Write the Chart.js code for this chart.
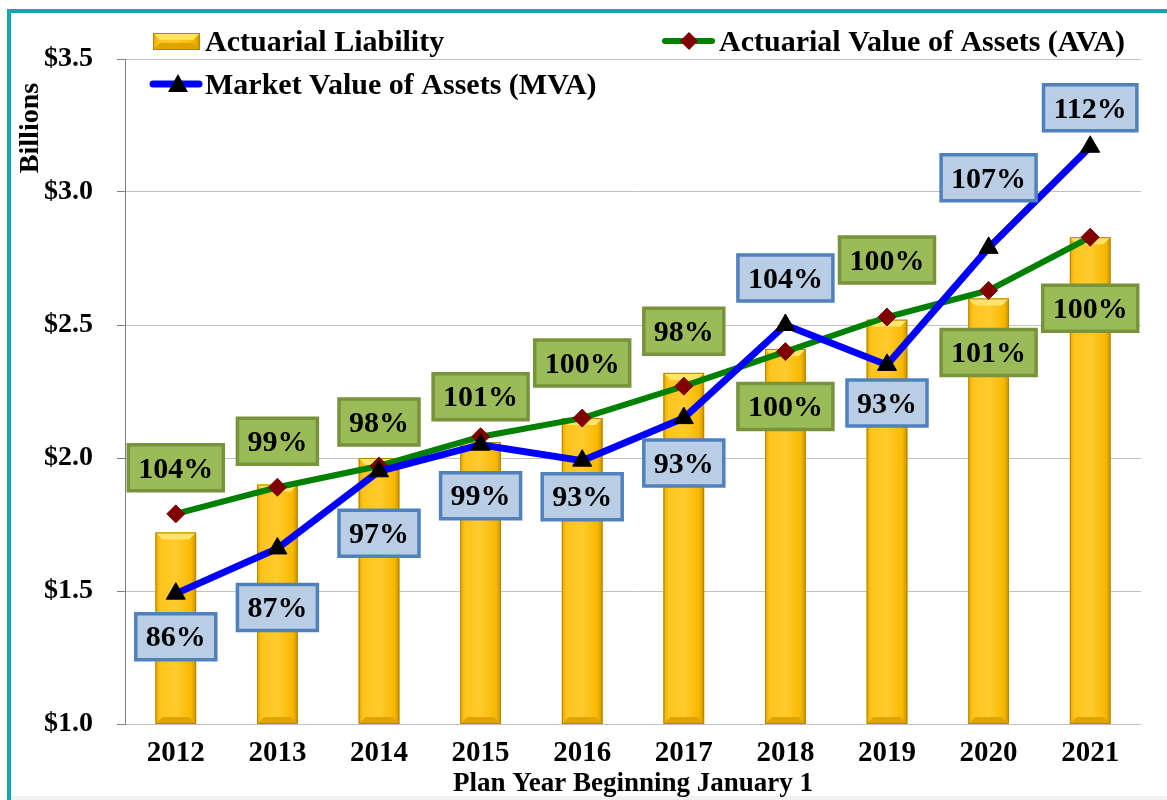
<!DOCTYPE html>
<html>
<head>
<meta charset="utf-8">
<script src="https://cdn.jsdelivr.net/npm/chart.js@4.4.1/dist/chart.umd.min.js"></script>
<style>
  html, body { margin: 0; padding: 0; background: #ffffff; }
  #wrap { width: 1167px; height: 800px; position: relative; }
  canvas { display: block; }
</style>
</head>
<body>
<div id="wrap"><canvas id="c" width="1167" height="800"></canvas></div>
<script>
// ---- Data ----
const categories = ['2012','2013','2014','2015','2016','2017','2018','2019','2020','2021'];
const liability  = [1.72, 1.90, 2.00, 2.06, 2.15, 2.32, 2.41, 2.52, 2.60, 2.83];
const ava        = [1.79, 1.89, 1.97, 2.08, 2.15, 2.27, 2.40, 2.53, 2.63, 2.83];
const mva        = [1.49, 1.66, 1.95, 2.05, 1.99, 2.15, 2.50, 2.35, 2.79, 3.17];
const avaPct     = ['104%','99%','98%','101%','100%','98%','100%','100%','101%','100%'];
const mvaPct     = ['86%','87%','97%','99%','93%','93%','104%','93%','107%','112%'];
const yTicks     = [1.0, 1.5, 2.0, 2.5, 3.0, 3.5];

// label placement (pixel offsets from the marker, styling only)
const avaLabelDy = [-46, -46, -44, -40, -55, -55, 55, -57, 62, 71];
const mvaLabelDy = [43, 59, 62, 51, 36, 45, -47, 38, -70, -39];

const SERIF = '"Liberation Serif", "Times New Roman", serif';

const framePlugin = {
  id: 'frame',
  beforeDraw(chart) {
    const ctx = chart.ctx;
    ctx.save();
    ctx.fillStyle = '#ffffff';
    ctx.fillRect(0, 0, chart.width, chart.height);
    ctx.fillStyle = '#f1f1f1';
    ctx.fillRect(11, 796, chart.width - 11, 4);
    ctx.fillStyle = '#12a5b4';
    ctx.fillRect(7, 9, chart.width - 7, 4);
    ctx.fillRect(7, 9, 4, chart.height - 9);
    ctx.restore();
  }
};

function bevelBar(ctx, left, right, top, bottom) {
  const w = right - left;
  const b = Math.min(7, w / 4, (bottom - top) / 2);
  const g = ctx.createLinearGradient(left, 0, right, 0);
  g.addColorStop(0, '#e8a900');
  g.addColorStop(0.12, '#ffc41c');
  g.addColorStop(0.5, '#ffcb2e');
  g.addColorStop(0.88, '#f7b800');
  g.addColorStop(1, '#c99200');
  ctx.fillStyle = g;
  ctx.fillRect(left, top, w, bottom - top);
  ctx.fillStyle = '#ffe36a';
  ctx.beginPath();
  ctx.moveTo(left, top); ctx.lineTo(right, top);
  ctx.lineTo(right - b, top + b); ctx.lineTo(left + b, top + b);
  ctx.closePath(); ctx.fill();
  ctx.fillStyle = '#e0a400';
  ctx.beginPath();
  ctx.moveTo(left, bottom); ctx.lineTo(right, bottom);
  ctx.lineTo(right - b, bottom - b); ctx.lineTo(left + b, bottom - b);
  ctx.closePath(); ctx.fill();
  ctx.strokeStyle = '#b38600';
  ctx.lineWidth = 1;
  ctx.strokeRect(left + 0.5, top + 0.5, w - 1, bottom - top - 1);
}

const barStylePlugin = {
  id: 'barStyle',
  afterDatasetDraw(chart, args) {
    if (args.index !== 0) return;
    const ctx = chart.ctx;
    const area = chart.chartArea;
    ctx.save();
    args.meta.data.forEach(el => {
      const left = el.x - el.width / 2, right = el.x + el.width / 2;
      bevelBar(ctx, left, right, el.y, Math.min(el.base, area.bottom));
    });
    ctx.restore();
  }
};

function drawBox(ctx, x, y, text, fill, stroke) {
  ctx.font = 'bold 30px ' + SERIF;
  const tw = ctx.measureText(text).width;
  const w = tw + 20, h = 46;
  ctx.fillStyle = fill;
  ctx.strokeStyle = stroke;
  ctx.lineWidth = 3.5;
  ctx.beginPath();
  ctx.rect(x - w / 2, y - h / 2, w, h);
  ctx.fill();
  ctx.stroke();
  ctx.fillStyle = '#000000';
  ctx.textAlign = 'center';
  ctx.textBaseline = 'middle';
  ctx.fillText(text, x, y + 2);
}

const labelPlugin = {
  id: 'pctLabels',
  afterDatasetsDraw(chart) {
    const ctx = chart.ctx;
    ctx.save();
    const avaMeta = chart.getDatasetMeta(1);
    const mvaMeta = chart.getDatasetMeta(2);
    avaMeta.data.forEach((pt, i) => {
      drawBox(ctx, pt.x, pt.y + avaLabelDy[i], avaPct[i], '#9bbb59', '#77933c');
    });
    mvaMeta.data.forEach((pt, i) => {
      drawBox(ctx, pt.x, pt.y + mvaLabelDy[i], mvaPct[i], '#b9cde5', '#4f81bd');
    });

    // y-axis caption
    ctx.save();
    ctx.translate(38, 128);
    ctx.rotate(-Math.PI / 2);
    ctx.font = 'bold 28px ' + SERIF;
    ctx.fillStyle = '#000';
    ctx.textAlign = 'center';
    ctx.textBaseline = 'alphabetic';
    ctx.fillText('Billions', 0, 0);
    ctx.restore();

    // legend
    ctx.font = 'bold 30px ' + SERIF;
    ctx.textAlign = 'left';
    ctx.textBaseline = 'alphabetic';
    bevelBar(ctx, 153, 200, 33, 50);
    ctx.fillStyle = '#000';
    ctx.fillText('Actuarial Liability', 205, 51);

    ctx.strokeStyle = '#008000';
    ctx.lineWidth = 6; ctx.lineCap = 'round';
    ctx.beginPath(); ctx.moveTo(665, 41); ctx.lineTo(712, 41); ctx.stroke();
    ctx.fillStyle = '#800000';
    ctx.beginPath();
    ctx.moveTo(689, 32); ctx.lineTo(698, 41); ctx.lineTo(689, 50); ctx.lineTo(680, 41);
    ctx.closePath(); ctx.fill();
    ctx.fillStyle = '#000';
    ctx.fillText('Actuarial Value of Assets (AVA)', 719, 51);

    ctx.strokeStyle = '#0000ff';
    ctx.lineWidth = 7;
    ctx.beginPath(); ctx.moveTo(153, 84); ctx.lineTo(199, 84); ctx.stroke();
    ctx.fillStyle = '#000';
    ctx.beginPath();
    ctx.moveTo(178, 74); ctx.lineTo(188, 92); ctx.lineTo(168, 92);
    ctx.closePath(); ctx.fill();
    ctx.fillText('Market Value of Assets (MVA)', 205, 94);
    ctx.restore();
  }
};

new Chart(document.getElementById('c'), {
  data: {
    labels: categories,
    datasets: [
      {
        type: 'bar', label: 'Actuarial Liability', data: liability,
        backgroundColor: '#ffc000', borderWidth: 0,
        categoryPercentage: 1.0, barPercentage: 0.40, order: 3
      },
      {
        type: 'line', label: 'Actuarial Value of Assets (AVA)', data: ava,
        borderColor: '#008000', borderWidth: 6, tension: 0,
        pointStyle: 'rectRot', pointRadius: 9, pointBackgroundColor: '#800000',
        pointBorderColor: '#800000', pointBorderWidth: 1, order: 2
      },
      {
        type: 'line', label: 'Market Value of Assets (MVA)', data: mva,
        borderColor: '#0000ff', borderWidth: 7, tension: 0,
        pointStyle: 'triangle', pointRadius: 11, pointBackgroundColor: '#000000',
        pointBorderColor: '#000000', pointBorderWidth: 1, order: 1
      }
    ]
  },
  options: {
    responsive: false,
    animation: false,
    events: [],
    layout: { padding: { left: 0, right: 26, top: 59, bottom: 0 } },
    plugins: { legend: { display: false }, tooltip: { enabled: false } },
    scales: {
      x: {
        grid: { display: false },
        border: { display: false },
        ticks: { color: '#000', font: { family: SERIF, size: 29, weight: 'bold' }, padding: 4, maxRotation: 0 },
        title: {
          display: true, text: 'Plan Year Beginning January 1', color: '#000',
          font: { family: SERIF, size: 27, weight: 'bold' }, padding: { top: 0, bottom: 0 }
        },
        afterFit(scale) { scale.height = 76; }
      },
      y: {
        min: 1.0, max: 3.5,
        afterBuildTicks(scale) { scale.ticks = yTicks.map(v => ({ value: v })); },
        grid: { color: '#c0c0c0', lineWidth: 1, drawTicks: true, tickLength: 8, tickColor: '#7f7f7f' },
        border: { display: true, color: '#7f7f7f', width: 1 },
        ticks: {
          color: '#000', padding: 24,
          font: { family: SERIF, size: 28, weight: 'bold' },
          callback: v => '$' + Number(v).toFixed(1)
        },
        afterFit(scale) { scale.width = 125; }
      }
    }
  },
  plugins: [framePlugin, barStylePlugin, labelPlugin]
});
</script>
</body>
</html>
